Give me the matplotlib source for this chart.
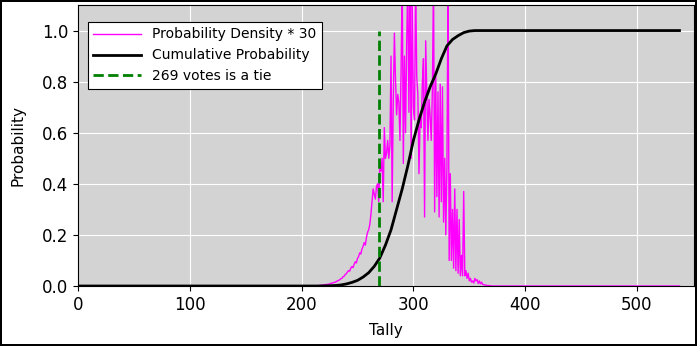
import numpy as np
import matplotlib
matplotlib.use('Agg')
import matplotlib.pyplot as plt

# electoral vote tallies 0..538
tally = np.arange(0, 539)

# probability density * 30 for tallies 215..370 (zero elsewhere)
dens_start = 215
dens_vals = [
    0.002, 0.002, 0.003, 0.003, 0.004, 0.004, 0.005, 0.006, 0.006, 0.007,
    0.008, 0.010, 0.011, 0.012, 0.014, 0.015, 0.017, 0.020, 0.022, 0.024,
    0.028, 0.030, 0.036, 0.038, 0.045, 0.048, 0.055, 0.060, 0.058, 0.070,
    0.076, 0.072, 0.085, 0.095, 0.090, 0.108, 0.115, 0.130, 0.125, 0.145,
    0.155, 0.170, 0.160, 0.190, 0.210, 0.220, 0.240, 0.280, 0.330, 0.380,
    0.360, 0.340, 0.390, 0.400, 0.330, 0.480, 0.450, 0.500, 0.330, 0.620,
    0.500, 0.520, 0.570, 0.500, 0.550, 0.900, 0.330, 0.720, 0.990, 0.810,
    0.670, 0.750, 0.720, 0.570, 0.850, 1.200, 0.480, 0.900, 0.600, 0.950,
    1.200, 0.680, 1.200, 0.500, 1.200, 0.700, 0.650, 1.200, 0.820, 0.750,
    0.440, 0.660, 0.620, 0.790, 0.890, 0.270, 0.960, 0.750, 0.570, 0.730,
    0.660, 0.570, 0.770, 1.200, 0.290, 0.820, 0.350, 0.760, 0.270, 0.790,
    0.330, 0.780, 0.250, 0.500, 0.200, 0.470, 1.200, 0.100, 0.440, 0.100,
    0.300, 0.070, 0.380, 0.060, 0.300, 0.050, 0.260, 0.040, 0.120, 0.040,
    0.370, 0.040, 0.060, 0.030, 0.050, 0.020, 0.030, 0.015, 0.020, 0.012,
    0.030, 0.020, 0.025, 0.010, 0.020, 0.008, 0.015, 0.006, 0.005, 0.004,
    0.003, 0.002, 0.002, 0.001, 0.001, 0.000,
]
density = np.zeros(len(tally))
density[dens_start:dens_start + len(dens_vals)] = dens_vals

# cumulative probability, read at selected tallies
cum_tally = [0, 215, 220, 225, 230, 235, 240, 245, 250, 255, 260, 265, 270,
             275, 280, 285, 290, 295, 300, 305, 310, 315, 320, 325, 330, 335,
             340, 345, 350, 355, 360, 538]
cum_prob = [0.0, 0.0, 0.0005, 0.001, 0.002, 0.004, 0.008, 0.014, 0.022, 0.035,
            0.052, 0.077, 0.11, 0.16, 0.22, 0.30, 0.38, 0.47, 0.57, 0.65,
            0.72, 0.78, 0.83, 0.89, 0.94, 0.965, 0.98, 0.992, 0.998, 1.0,
            1.0, 1.0]

tie = 269

fig = plt.figure(figsize=(6.97, 3.46), dpi=100)
fig.patch.set_edgecolor('black')
fig.patch.set_linewidth(1.5)
ax = fig.add_axes([0.1119, 0.1734, 0.8838, 0.8121])
ax.set_facecolor('#d3d3d3')
ax.grid(True, color='white', linewidth=0.8)
ax.set_axisbelow(True)

ax.plot(tally, density, color='magenta', linewidth=1, label='Probability Density * 30')
ax.plot(cum_tally, cum_prob, color='black', linewidth=2, label='Cumulative Probability')
ax.plot([tie, tie], [0, 1], color='green', linestyle='--', linewidth=2,
        label='269 votes is a tie')

ax.set_xlim(0, 551)
ax.set_ylim(0, 1.1)
ax.set_xticks([0, 100, 200, 300, 400, 500])
ax.set_yticks([0.0, 0.2, 0.4, 0.6, 0.8, 1.0])
ax.tick_params(labelsize=12)
ax.set_xlabel('Tally', fontsize=11, labelpad=7)
ax.set_ylabel('Probability', fontsize=11, labelpad=12)

leg = ax.legend(loc='upper left', bbox_to_anchor=(0.016, 0.94), borderaxespad=0,
                fontsize=10, handlelength=3.4, fancybox=False, framealpha=1,
                edgecolor='black')
leg.get_frame().set_linewidth(0.8)

fig.savefig('out.png', dpi=100, edgecolor=fig.get_edgecolor())
